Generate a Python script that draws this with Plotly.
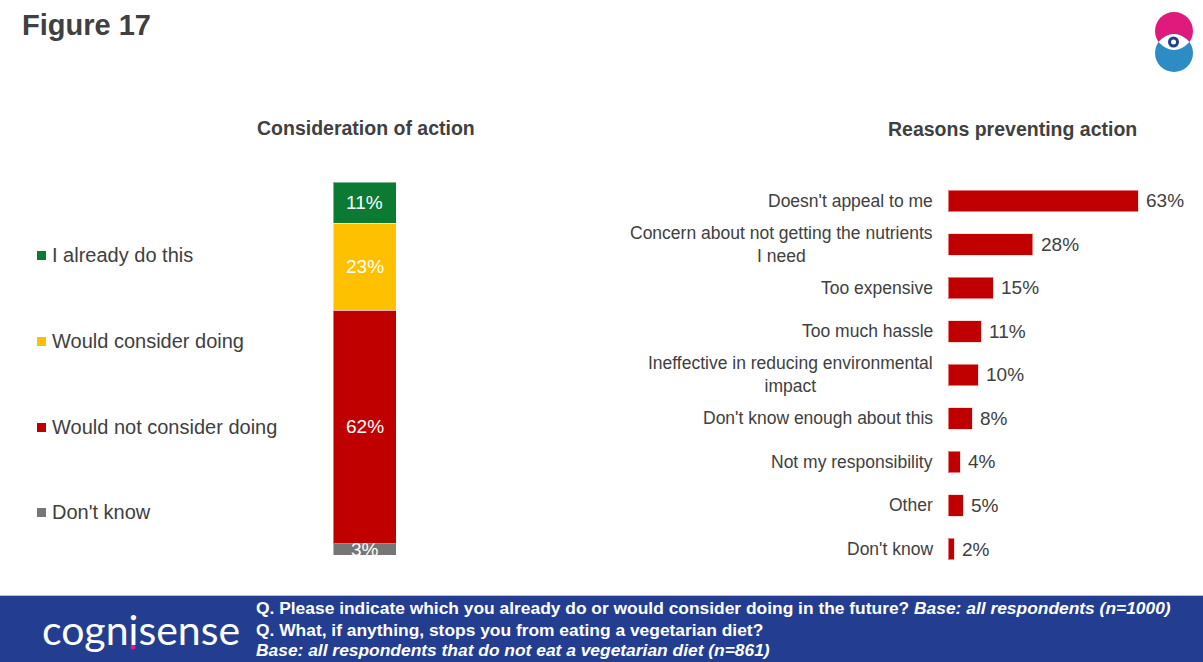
import plotly.graph_objects as go

# ---- data -------------------------------------------------------------
consider_labels = ["I already do this", "Would consider doing",
                   "Would not consider doing", "Don't know"]
consider_values = [11, 23, 62, 3]
consider_colors = ["#0b7a33", "#ffc000", "#c00000", "#767676"]

reason_labels = [
    "Doesn't appeal to me",
    "Concern about not getting the nutrients<br>I need",
    "Too expensive",
    "Too much hassle",
    "Ineffective in reducing environmental<br>impact",
    "Don't know enough about this",
    "Not my responsibility",
    "Other",
    "Don't know",
]
reason_values = [63, 28, 15, 11, 10, 8, 4, 5, 2]

# ---- canvas helpers (pixel -> paper) ---------------------------------
W, H = 1203, 662
FONT = "Liberation Sans, Arial, sans-serif"
TXT = "#404040"


def px(x):
    return x / W


def py(y):
    return 1 - y / H


fig = go.Figure()

# left: stacked single column (bottom segment first)
order = list(range(len(consider_values)))[::-1]
for i in order:
    fig.add_trace(go.Bar(
        x=[0], y=[consider_values[i]], width=1,
        marker=dict(color=consider_colors[i],
                    line=dict(color="rgba(255,255,255,0.45)", width=1)),
        name=consider_labels[i], showlegend=False,
        xaxis="x", yaxis="y", hoverinfo="skip",
    ))

# right: horizontal bars
fig.add_trace(go.Bar(
    x=reason_values, y=reason_labels, orientation="h", width=0.5,
    marker=dict(color="#c00000", line=dict(color="rgba(255,200,200,0.6)", width=1)),
    showlegend=False, xaxis="x2", yaxis="y2", hoverinfo="skip",
))

annotations = []

# segment labels inside the stacked column
cum = 0
for i in order:
    v = consider_values[i]
    annotations.append(dict(
        x=0, y=cum + v / 2, xref="x", yref="y", text=f"{v}%",
        xanchor="center", yanchor="middle",
        showarrow=False, font=dict(family=FONT, size=19, color="white"),
    ))
    cum += v

# legend drawn as coloured squares + text
legend_y = [255, 341, 427, 512]
shapes = []
for lab, col, ly in zip(consider_labels, consider_colors, legend_y):
    shapes.append(dict(type="rect", xref="paper", yref="paper",
                       x0=px(37), x1=px(46), y0=py(ly + 5), y1=py(ly - 4),
                       fillcolor=col, line=dict(width=0)))
    annotations.append(dict(
        x=px(50), y=py(ly), xref="paper", yref="paper", text=lab,
        xanchor="left", yanchor="middle", showarrow=False,
        font=dict(family=FONT, size=20, color=TXT),
    ))

# category labels and value labels for the right chart
for lab, v in zip(reason_labels, reason_values):
    annotations.append(dict(
        x=px(935), y=lab, xref="paper", yref="y2", text=lab,
        xanchor="right", yanchor="middle", align="center", showarrow=False,
        font=dict(family=FONT, size=17.5, color=TXT),
    ))
    annotations.append(dict(
        x=v, y=lab, xref="x2", yref="y2", text=f"{v}%",
        xanchor="left", yanchor="middle", xshift=6, showarrow=False,
        font=dict(family=FONT, size=19, color=TXT),
    ))

# titles
annotations += [
    dict(x=px(20), y=py(25), xref="paper", yref="paper", text="<b>Figure 17</b>",
         xanchor="left", yanchor="middle", showarrow=False,
         font=dict(family=FONT, size=29, color=TXT)),
    dict(x=px(366), y=py(128), xref="paper", yref="paper",
         text="<b>Consideration of action</b>", showarrow=False,
         xanchor="center", yanchor="middle",
         font=dict(family=FONT, size=19.5, color=TXT)),
    dict(x=px(1012), y=py(129), xref="paper", yref="paper",
         text="<b>Reasons preventing action</b>", showarrow=False,
         xanchor="center", yanchor="middle",
         font=dict(family=FONT, size=19.5, color=TXT)),
]

# footer band
shapes += [
    dict(type="rect", xref="paper", yref="paper", x0=0, x1=1,
         y0=py(H + 2), y1=py(596), fillcolor="#233e91", line=dict(width=0), layer="below"),
    dict(type="line", xref="paper", yref="paper", x0=0, x1=1,
         y0=py(595.5), y1=py(595.5), line=dict(color="#b8c0dc", width=1)),
]
FOOT = 17.4
annotations += [
    dict(x=px(40), y=py(629), xref="paper", yref="paper", text="cognisense",
         xanchor="left", yanchor="middle", showarrow=False,
         font=dict(family="Lato, sans-serif", size=41, color="white")),
    dict(x=px(254), y=py(608), xref="paper", yref="paper",
         text="<b>Q. Please indicate which you already do or would consider doing in the future? "
              "<i>Base: all respondents (n=1000)</i></b>",
         xanchor="left", yanchor="middle", showarrow=False,
         font=dict(family=FONT, size=FOOT, color="white")),
    dict(x=px(254), y=py(630), xref="paper", yref="paper",
         text="<b>Q. What, if anything, stops you from eating a vegetarian diet?</b>",
         xanchor="left", yanchor="middle", showarrow=False,
         font=dict(family=FONT, size=FOOT, color="white")),
    dict(x=px(254), y=py(650), xref="paper", yref="paper",
         text="<b><i>Base: all respondents that do not eat a vegetarian diet (n=861)</i></b>",
         xanchor="left", yanchor="middle", showarrow=False,
         font=dict(family=FONT, size=FOOT, color="white")),
]
# pink dot of the wordmark
shapes.append(dict(type="circle", xref="paper", yref="paper",
                   x0=px(130.5), x1=px(135.5), y0=py(649.5), y1=py(644.5),
                   fillcolor="#e0197d", line=dict(width=0)))

# top-right emblem: two overlapping circles with an eye in the lens
cx = 1174
shapes += [
    dict(type="circle", xref="paper", yref="paper",
         x0=px(cx - 19), x1=px(cx + 19), y0=py(50), y1=py(12),
         fillcolor="#e0197d", line=dict(width=0)),
    dict(type="circle", xref="paper", yref="paper",
         x0=px(cx - 19), x1=px(cx + 19), y0=py(72), y1=py(34),
         fillcolor="#2e8cc4", line=dict(width=0)),
    dict(type="path", xref="paper", yref="paper",
         path=(f"M {px(cx - 15.5)},{py(42)} Q {px(cx)},{py(26)} {px(cx + 15.5)},{py(42)} "
               f"Q {px(cx)},{py(58)} {px(cx - 15.5)},{py(42)} Z"),
         fillcolor="white", line=dict(width=0)),
    dict(type="circle", xref="paper", yref="paper",
         x0=px(cx - 6), x1=px(cx + 5), y0=py(47.5), y1=py(36.5),
         fillcolor="#1f3f8f", line=dict(width=0)),
    dict(type="circle", xref="paper", yref="paper",
         x0=px(cx - 3), x1=px(cx + 2), y0=py(44.5), y1=py(39.5),
         fillcolor="white", line=dict(width=0)),
]

fig.update_layout(
    width=W, height=H,
    margin=dict(l=0, r=0, t=0, b=0),
    paper_bgcolor="white", plot_bgcolor="white",
    barmode="stack",
    showlegend=False,
    xaxis=dict(domain=[px(333), px(396)], range=[-0.5, 0.5], visible=False, fixedrange=True),
    yaxis=dict(domain=[py(555), py(182)], range=[0, sum(consider_values)],
               visible=False, fixedrange=True),
    xaxis2=dict(domain=[px(948), 1], range=[0, 84.5], visible=False, anchor="y2"),
    yaxis2=dict(domain=[py(570.75), py(179.25)], anchor="x2",
                categoryorder="array", categoryarray=reason_labels,
                autorange="reversed", showticklabels=False, showgrid=False,
                zeroline=False, showline=False, ticks=""),
    shapes=shapes,
    annotations=annotations,
)

fig.write_html("out.html")
